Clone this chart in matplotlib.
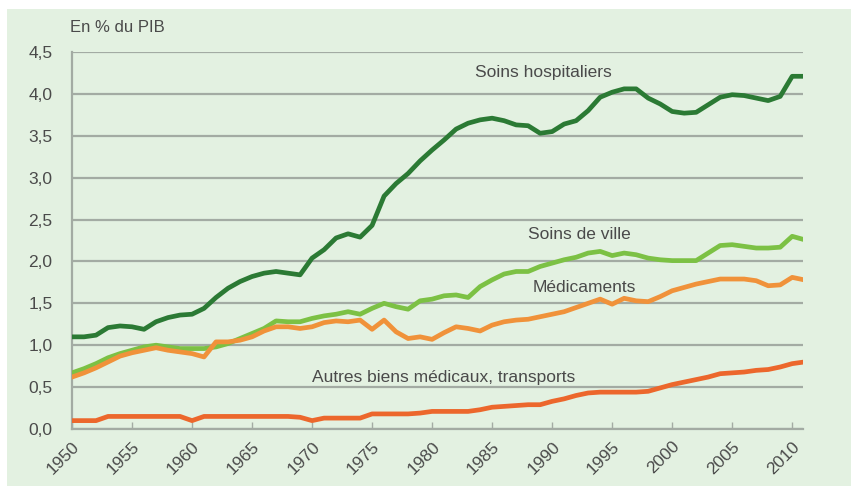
import matplotlib
matplotlib.use("Agg")
import matplotlib.pyplot as plt
from matplotlib.patches import Rectangle

years = list(range(1950, 2012))

soins_hospitaliers = [1.10, 1.10, 1.12, 1.21, 1.23, 1.22, 1.19, 1.28, 1.33, 1.36,
                      1.37, 1.44, 1.57, 1.68, 1.76, 1.82, 1.86, 1.88, 1.86, 1.84,
                      2.04, 2.14, 2.28, 2.33, 2.29, 2.43, 2.78, 2.93, 3.05, 3.20,
                      3.33, 3.45, 3.58, 3.65, 3.69, 3.71, 3.68, 3.63, 3.62, 3.53,
                      3.55, 3.64, 3.68, 3.80, 3.96, 4.02, 4.06, 4.06, 3.95, 3.88,
                      3.79, 3.77, 3.78, 3.87, 3.96, 3.99, 3.98, 3.95, 3.92, 3.97,
                      4.21, 4.21]

soins_de_ville = [0.67, 0.72, 0.78, 0.85, 0.90, 0.94, 0.98, 1.00, 0.98, 0.96,
                  0.96, 0.96, 0.98, 1.02, 1.08, 1.14, 1.20, 1.29, 1.28, 1.28,
                  1.32, 1.35, 1.37, 1.40, 1.37, 1.44, 1.50, 1.46, 1.43, 1.53,
                  1.55, 1.59, 1.60, 1.57, 1.70, 1.78, 1.85, 1.88, 1.88, 1.94,
                  1.98, 2.02, 2.05, 2.10, 2.12, 2.07, 2.10, 2.08, 2.04, 2.02,
                  2.01, 2.01, 2.01, 2.10, 2.19, 2.20, 2.18, 2.16, 2.16, 2.17,
                  2.30, 2.26]

medicaments = [0.62, 0.67, 0.73, 0.80, 0.87, 0.91, 0.94, 0.97, 0.94, 0.92,
               0.90, 0.86, 1.04, 1.04, 1.06, 1.10, 1.17, 1.22, 1.22, 1.20,
               1.22, 1.27, 1.29, 1.28, 1.30, 1.19, 1.30, 1.16, 1.08, 1.10,
               1.07, 1.15, 1.22, 1.20, 1.17, 1.24, 1.28, 1.30, 1.31, 1.34,
               1.37, 1.40, 1.45, 1.50, 1.55, 1.49, 1.56, 1.53, 1.52, 1.58,
               1.65, 1.69, 1.73, 1.76, 1.79, 1.79, 1.79, 1.77, 1.71, 1.72,
               1.81, 1.78]

autres = [0.10, 0.10, 0.10, 0.15, 0.15, 0.15, 0.15, 0.15, 0.15, 0.15,
          0.10, 0.15, 0.15, 0.15, 0.15, 0.15, 0.15, 0.15, 0.15, 0.14,
          0.10, 0.13, 0.13, 0.13, 0.13, 0.18, 0.18, 0.18, 0.18, 0.19,
          0.21, 0.21, 0.21, 0.21, 0.23, 0.26, 0.27, 0.28, 0.29, 0.29,
          0.33, 0.36, 0.40, 0.43, 0.44, 0.44, 0.44, 0.44, 0.45, 0.49,
          0.53, 0.56, 0.59, 0.62, 0.66, 0.67, 0.68, 0.70, 0.71, 0.74,
          0.78, 0.80]

y_ticks = [0.0, 0.5, 1.0, 1.5, 2.0, 2.5, 3.0, 3.5, 4.0, 4.5]
y_tick_labels = ["0,0", "0,5", "1,0", "1,5", "2,0", "2,5", "3,0", "3,5", "4,0", "4,5"]
x_ticks = list(range(1950, 2011, 5))

BG = "#e3f1e1"
TXT = "#4a4a4a"
GRID = "#a3aba3"
FONT = ["Liberation Sans Narrow", "Liberation Sans", "DejaVu Sans"]

plt.rcParams["font.family"] = FONT

fig = plt.figure(figsize=(8.51, 4.86), dpi=100, facecolor="white")
fig.patches.append(Rectangle((7 / 851, 0), 1 - 7 / 851, 1 - 9 / 486,
                             transform=fig.transFigure, facecolor=BG,
                             edgecolor="none", zorder=-10))
ax = fig.add_axes([72 / 851, 1 - 429 / 486, (803 - 72) / 851, (429 - 52) / 486])
ax.set_facecolor(BG)

ax.plot(years, soins_hospitaliers, color="#2b7a34", lw=3.4, solid_joinstyle="round", zorder=4)
ax.plot(years, soins_de_ville, color="#7cc144", lw=3.4, solid_joinstyle="round", zorder=3)
ax.plot(years, medicaments, color="#f0923a", lw=3.4, solid_joinstyle="round", zorder=4)
ax.plot(years, autres, color="#ec672c", lw=3.4, solid_joinstyle="round", zorder=4)

ax.set_xlim(1950, 2010.9)
ax.set_ylim(0, 4.5)
ax.set_yticks(y_ticks)
ax.set_yticklabels(y_tick_labels)
ax.set_xticks(x_ticks)
ax.set_xticklabels([str(x) for x in x_ticks], rotation=45, ha="right",
                   rotation_mode="anchor")
ax.grid(axis="y", color=GRID, lw=1.6, zorder=1)
ax.set_axisbelow(True)
for s in ["top", "right"]:
    ax.spines[s].set_visible(False)
for s in ["left", "bottom"]:
    ax.spines[s].set_color(GRID)
    ax.spines[s].set_linewidth(1.6)
ax.tick_params(axis="y", length=0, pad=14, labelsize=12.5, labelcolor=TXT)
ax.tick_params(axis="x", direction="in", length=5, width=1, color=GRID,
               pad=7, labelsize=12.5, labelcolor=TXT)

fig.text(70 / 851, 1 - 28 / 486, "En % du PIB", fontsize=12, color=TXT,
         ha="left", va="center")

ax.text(1983.6, 4.25, "Soins hospitaliers", fontsize=12.5, color=TXT, va="center")
ax.text(1988.0, 2.32, "Soins de ville", fontsize=12.5, color=TXT, va="center")
ax.text(1988.4, 1.69, "Médicaments", fontsize=12.5, color=TXT, va="center")
ax.text(1970.0, 0.61, "Autres biens médicaux, transports", fontsize=12.5,
        color=TXT, va="center")

fig.savefig("out.png", dpi=100, facecolor=fig.get_facecolor())
